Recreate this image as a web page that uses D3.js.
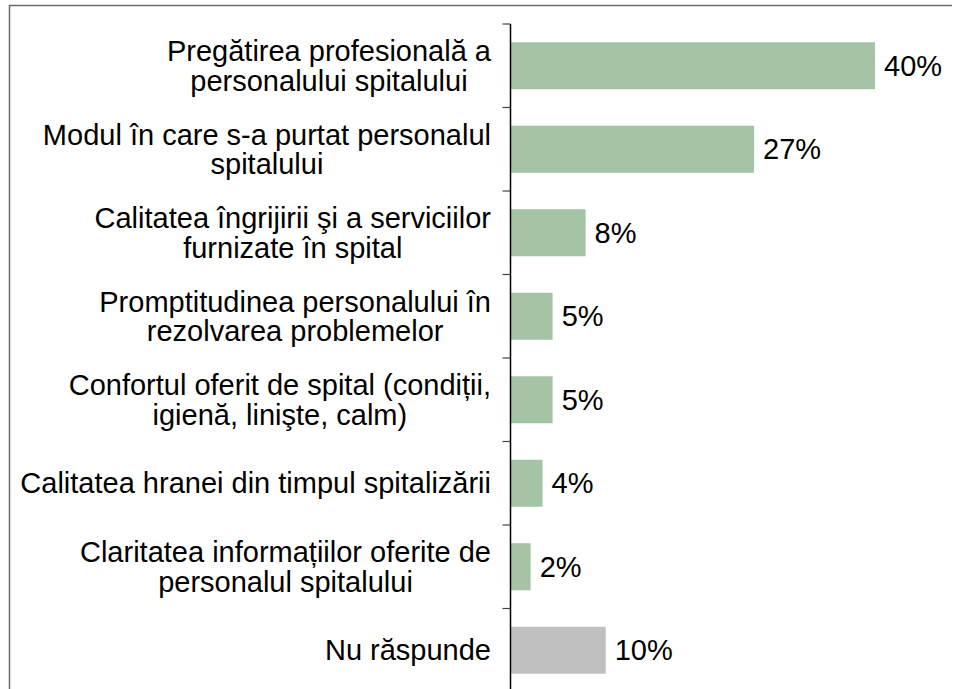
<!DOCTYPE html>
<html>
<head>
<meta charset="utf-8">
<script src="https://cdn.jsdelivr.net/npm/d3@7"></script>
<style>
  body { margin: 0; background: #fff; }
  text { font-family: "Liberation Sans", Arial, sans-serif; fill: #000; }
</style>
</head>
<body>
<script>
var width = 956,
    height = 689;

var categories = [
  "Pregătirea profesională a\npersonalului spitalului",
  "Modul în care s-a purtat personalul\nspitalului",
  "Calitatea îngrijirii şi a serviciilor\nfurnizate în spital",
  "Promptitudinea personalului în\nrezolvarea problemelor",
  "Confortul oferit de spital (condiții,\nigienă, linişte, calm)",
  "Calitatea hranei din timpul spitalizării",
  "Claritatea informațiilor oferite de\npersonalul spitalului",
  "Nu răspunde"
];
var values = [39.8, 26.6, 8.2, 4.6, 4.6, 3.5, 2.2, 10.4];
var valueLabels = ["40%", "27%", "8%", "5%", "5%", "4%", "2%", "10%"];

var axisX = 510.5,
    topY = 24,
    step = 83.5,
    fontSize = 29;

var x = d3.scaleLinear()
    .domain([0, values[0]])
    .range([axisX, 875]);

var y = d3.scaleBand()
    .domain(categories)
    .range([topY, topY + step * categories.length])
    .paddingInner(0.437)
    .paddingOuter(0.2185);

var color = d3.scaleOrdinal()
    .domain(categories)
    .range(categories.map(function(c, i) { return i === categories.length - 1 ? "#c0c0c0" : "#a5c4a5"; }));

var svg = d3.select("body").append("svg")
    .attr("width", width)
    .attr("height", height);

// frame around the chart
svg.append("path")
    .attr("d", "M9.5," + height + "V5.5H952")
    .attr("fill", "none")
    .attr("stroke", "#6b6b6b")
    .attr("stroke-width", 1.5);

// bars
svg.selectAll("rect.bar")
    .data(categories)
  .enter().append("rect")
    .attr("class", "bar")
    .attr("x", x(0))
    .attr("y", function(d) { return y(d); })
    .attr("width", function(d, i) { return x(values[i]) - x(0); })
    .attr("height", y.bandwidth())
    .attr("fill", function(d) { return color(d); });

// category axis with ticks between the bands
var ticks = d3.range(categories.length + 1).map(function(i) { return topY + i * y.step(); });
svg.selectAll("line.tick")
    .data(ticks)
  .enter().append("line")
    .attr("class", "tick")
    .attr("x1", axisX - 8).attr("x2", axisX)
    .attr("y1", function(d) { return d; }).attr("y2", function(d) { return d; })
    .attr("stroke", "#444")
    .attr("stroke-width", 1.2);

svg.append("line")
    .attr("x1", axisX).attr("x2", axisX)
    .attr("y1", topY).attr("y2", ticks[ticks.length - 1])
    .attr("stroke", "#000")
    .attr("stroke-width", 1.5);

// category labels: wrapped lines centred as a block, block right aligned
var labelRight = 491,
    lineH = 29.5;

categories.forEach(function(c) {
  var lines = c.split("\n");
  var cy = y(c) + y.bandwidth() / 2;
  var g = svg.append("g");
  var texts = lines.map(function(l, j) {
    return g.append("text")
      .attr("y", cy + fontSize * 0.35 + (j - (lines.length - 1) / 2) * lineH)
      .attr("font-size", fontSize)
      .attr("text-anchor", "middle")
      .text(l);
  });
  var maxW = d3.max(texts, function(t) { return t.node().getComputedTextLength(); });
  texts.forEach(function(t) { t.attr("x", labelRight - maxW / 2); });
});

// value labels
svg.selectAll("text.value")
    .data(categories)
  .enter().append("text")
    .attr("class", "value")
    .attr("x", function(d, i) { return x(values[i]) + 9; })
    .attr("y", function(d) { return y(d) + y.bandwidth() / 2 + fontSize * 0.35; })
    .attr("font-size", fontSize)
    .text(function(d, i) { return valueLabels[i]; });
</script>
</body>
</html>
